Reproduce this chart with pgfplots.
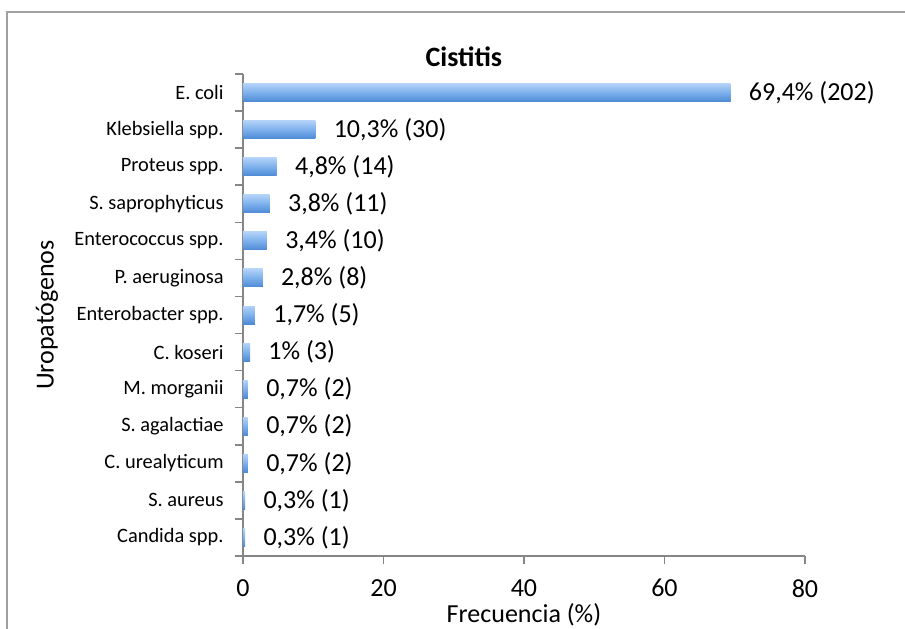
\documentclass[border=0pt]{standalone}
\usepackage{pgfplots}
\pgfplotsset{compat=1.18}
\usepackage{fontspec}
\setmainfont{Carlito}
\definecolor{axgray}{HTML}{868686}
\definecolor{framegray}{HTML}{A0A0A0}
\definecolor{bartop}{HTML}{B2D2F8}
\definecolor{barmid}{HTML}{7DB0EC}
\definecolor{barbot}{HTML}{4D8AD5}
\begin{document}
\begin{tikzpicture}
\path[use as bounding box] (-121.5pt,-36pt) rectangle (331pt,278pt);
\begin{axis}[
  at={(0,0)}, anchor=south west,
  scale only axis, width=281pt, height=241pt,
  xbar, bar width=9pt, bar shift=0pt,
  xmin=0, xmax=80, xtick={0,20,40,60,80},
  ymin=-0.5, ymax=12.5, y dir=reverse,
  axis x line*=bottom, axis y line*=left,
  axis line style={axgray, line width=0.75pt},
  every tick/.style={axgray, line width=0.75pt},
  tick align=outside, major tick length=4pt,
  ytick={-0.5,0.5,...,12.5}, yticklabels={},
  extra y ticks={0,1,2,3,4,5,6,7,8,9,10,11,12},
  extra y tick labels={E. coli,Klebsiella spp.,Proteus spp.,S. saprophyticus,Enterococcus spp.,P. aeruginosa,Enterobacter spp.,C. koseri,M. morganii,S. agalactiae,C. urealyticum,S. aureus,Candida spp.},
  extra y tick style={tick style={draw=none}, yticklabel style={font=\fontsize{10.2}{12}\selectfont, anchor=east, inner sep=0pt, xshift=-5.5pt}},
  xticklabel style={font=\fontsize{13}{15}\selectfont, inner sep=0pt, anchor=north, yshift=-7.5pt},
  /pgf/number format/assume math mode=true,
  title={Cistitis},
  title style={at={(axis description cs:0.393,1.01)}, anchor=center, font=\fontsize{14}{16}\selectfont\bfseries},
  xlabel={Frecuencia (\%)},
  every axis x label/.style={at={(axis description cs:0.5,-0.1225)}, anchor=center, font=\fontsize{13}{15}\selectfont},
  ylabel={Uropatógenos},
  every axis y label/.style={at={(axis description cs:-0.3488,0.5)}, rotate=90, anchor=center, font=\fontsize{13}{15}\selectfont},
  point meta=explicit symbolic,
  nodes near coords,
  every node near coord/.append style={anchor=west, inner sep=0pt, xshift=9pt, font=\fontsize{13}{15}\selectfont, black},
  every axis plot/.append style={draw=none, top color=bartop, bottom color=barbot, middle color=barmid},
  clip=false,
]
\addplot coordinates {(69.4,0) [69,4\% (202)]};
\addplot coordinates {(10.3,1) [10,3\% (30)]};
\addplot coordinates {(4.8,2) [4,8\% (14)]};
\addplot coordinates {(3.8,3) [3,8\% (11)]};
\addplot coordinates {(3.4,4) [3,4\% (10)]};
\addplot coordinates {(2.8,5) [2,8\% (8)]};
\addplot coordinates {(1.7,6) [1,7\% (5)]};
\addplot coordinates {(1,7) [1\% (3)]};
\addplot coordinates {(0.7,8) [0,7\% (2)]};
\addplot coordinates {(0.7,9) [0,7\% (2)]};
\addplot coordinates {(0.7,10) [0,7\% (2)]};
\addplot coordinates {(0.3,11) [0,3\% (1)]};
\addplot coordinates {(0.3,12) [0,3\% (1)]};
\end{axis}
\draw[framegray, line width=1pt] (-118pt,-40pt) -- (-118pt,272pt) -- (340pt,272pt);
\end{tikzpicture}
\end{document}
